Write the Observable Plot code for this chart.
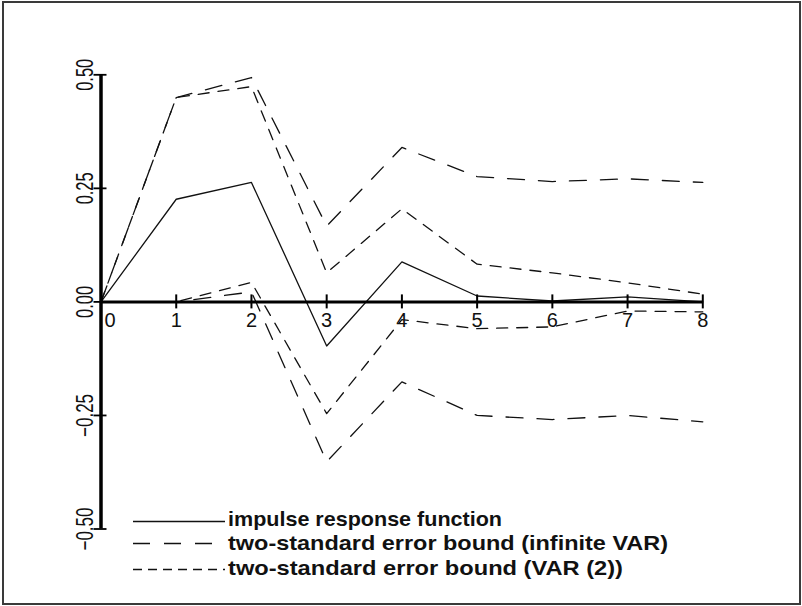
<!DOCTYPE html>
<html><head><meta charset="utf-8">
<script src="https://cdn.jsdelivr.net/npm/d3@7"></script>
<script src="https://cdn.jsdelivr.net/npm/@observablehq/plot@0.6"></script>
<style>
html,body{margin:0;padding:0;background:#fff;}
#wrap{position:relative;width:802px;height:606px;overflow:hidden;background:#fff;}
#chart{position:absolute;left:0;top:0;}
#frame{position:absolute;left:2px;top:1px;width:799px;height:604px;border:2px solid #3a3a3a;box-sizing:border-box;pointer-events:none;}
</style></head><body>
<div id="wrap"><div id="chart"></div><div id="frame"></div></div>
<script>
// ---- data ----
const horizons  = [0, 1, 2, 3, 4, 5, 6, 7, 8];
const impulse   = [0, 0.226, 0.263, -0.097, 0.088, 0.013, 0.002, 0.011, 0];
const infUpper  = [0, 0.450, 0.494, 0.167, 0.340, 0.276, 0.265, 0.271, 0.263];
const infLower  = [0, 0, 0.022, -0.352, -0.176, -0.250, -0.259, -0.250, -0.264];
const var2Upper = [0, 0.450, 0.474, 0.064, 0.205, 0.083, 0.064, 0.042, 0.017];
const var2Lower = [0, 0, 0.043, -0.246, -0.039, -0.059, -0.055, -0.020, -0.022];
const xTicks = [0, 1, 2, 3, 4, 5, 6, 7, 8];
const xTickLabels = ["0", "1", "2", "3", "4", "5", "6", "7", "8"];
const yTicks = [0.5, 0.25, 0, -0.25, -0.5];
const yTickLabels = ["0.50", "0.25", "0.00", "\u22120.25", "\u22120.50"];
const legendLabels = [
  "impulse response function",
  "two-standard error bound (infinite VAR)",
  "two-standard error bound (VAR (2))"
];

// ---- styles ----
const INK = "#111";
const LONG = "17,14";
const SHORT = "11,9";
const rows = vals => horizons.map((h, i) => ({h, v: vals[i]}));

const plot = Plot.plot({
  width: 802, height: 606,
  marginLeft: 100.5, marginRight: 99.7, marginTop: 74.3, marginBottom: 77.5,
  x: {domain: [0, 8], axis: null},
  y: {domain: [-0.5, 0.5], axis: null},
  style: {fontFamily: "'Liberation Sans', Arial, Helvetica, sans-serif", background: "transparent", overflow: "visible", color: INK},
  marks: [
    Plot.lineY(rows(infUpper),  {x: "h", y: "v", stroke: INK, strokeWidth: 1.3, strokeDasharray: LONG}),
    Plot.lineY(rows(infLower),  {x: "h", y: "v", stroke: INK, strokeWidth: 1.3, strokeDasharray: LONG}),
    Plot.lineY(rows(var2Upper), {x: "h", y: "v", stroke: INK, strokeWidth: 1.3, strokeDasharray: SHORT}),
    Plot.lineY(rows(var2Lower), {x: "h", y: "v", stroke: INK, strokeWidth: 1.3, strokeDasharray: SHORT}),
    Plot.lineY(rows(impulse),   {x: "h", y: "v", stroke: INK, strokeWidth: 1.3}),
    // axes
    Plot.ruleY([0], {stroke: "#000", strokeWidth: 3}),
    Plot.ruleX([0], {stroke: "#000", strokeWidth: 3.5}),
    Plot.ruleX(xTicks, {x: d => d, y1: 0, y2: 0, insetTop: -7, insetBottom: -7, stroke: "#000", strokeWidth: 2}),
    Plot.ruleY(yTicks, {y: d => d, x1: 0, x2: 0, insetLeft: -7, insetRight: -6, stroke: "#000", strokeWidth: 1.8}),
    Plot.text(xTicks.filter(d => d !== 0), {x: d => d, y: 0, text: d => xTickLabels[xTicks.indexOf(d)], lineAnchor: "top", dy: 10.5, fontSize: 20, fill: INK}),
    Plot.text([0], {x: d => d, y: 0, text: d => xTickLabels[xTicks.indexOf(d)], lineAnchor: "top", dy: 10.5, dx: 9, fontSize: 20, fill: INK}),
    Plot.text(yTicks, {x: 0, y: d => d, text: (d, i) => yTickLabels[i], rotate: -90, dx: -16, fontSize: 24, textAnchor: "middle", fill: INK})
  ]
});

// condensed y tick labels
d3.select(plot).selectAll("text").each(function() {
  const t = this.textContent;
  const k = yTickLabels.indexOf(t);
  if (k >= 0) {
    d3.select(this).attr("textLength", t.length > 4 ? 43 : 32).attr("lengthAdjust", "spacingAndGlyphs");
  }
});

// legend
const legDash = ["none", LONG, "9,6"];
const legLineY = [521.5, 543.5, 569.5];
const legTextY = [526, 549.5, 574.5];
const legTextLen = [274, 440, 395];
const leg = d3.select(plot).append("g").attr("class", "legend").attr("text-anchor", "start");
legendLabels.forEach((lab, i) => {
  leg.append("line")
    .attr("x1", 133).attr("x2", 225)
    .attr("y1", legLineY[i]).attr("y2", legLineY[i])
    .attr("stroke", INK).attr("stroke-width", 1.3)
    .attr("stroke-dasharray", legDash[i]);
  leg.append("text")
    .attr("x", 228).attr("y", legTextY[i])
    .attr("text-anchor", "start")
    .attr("font-size", 21).attr("font-weight", "bold")
    .attr("fill", INK)
    .attr("textLength", legTextLen[i]).attr("lengthAdjust", "spacingAndGlyphs")
    .text(lab);
});

document.getElementById("chart").appendChild(plot);
</script>
</body></html>
